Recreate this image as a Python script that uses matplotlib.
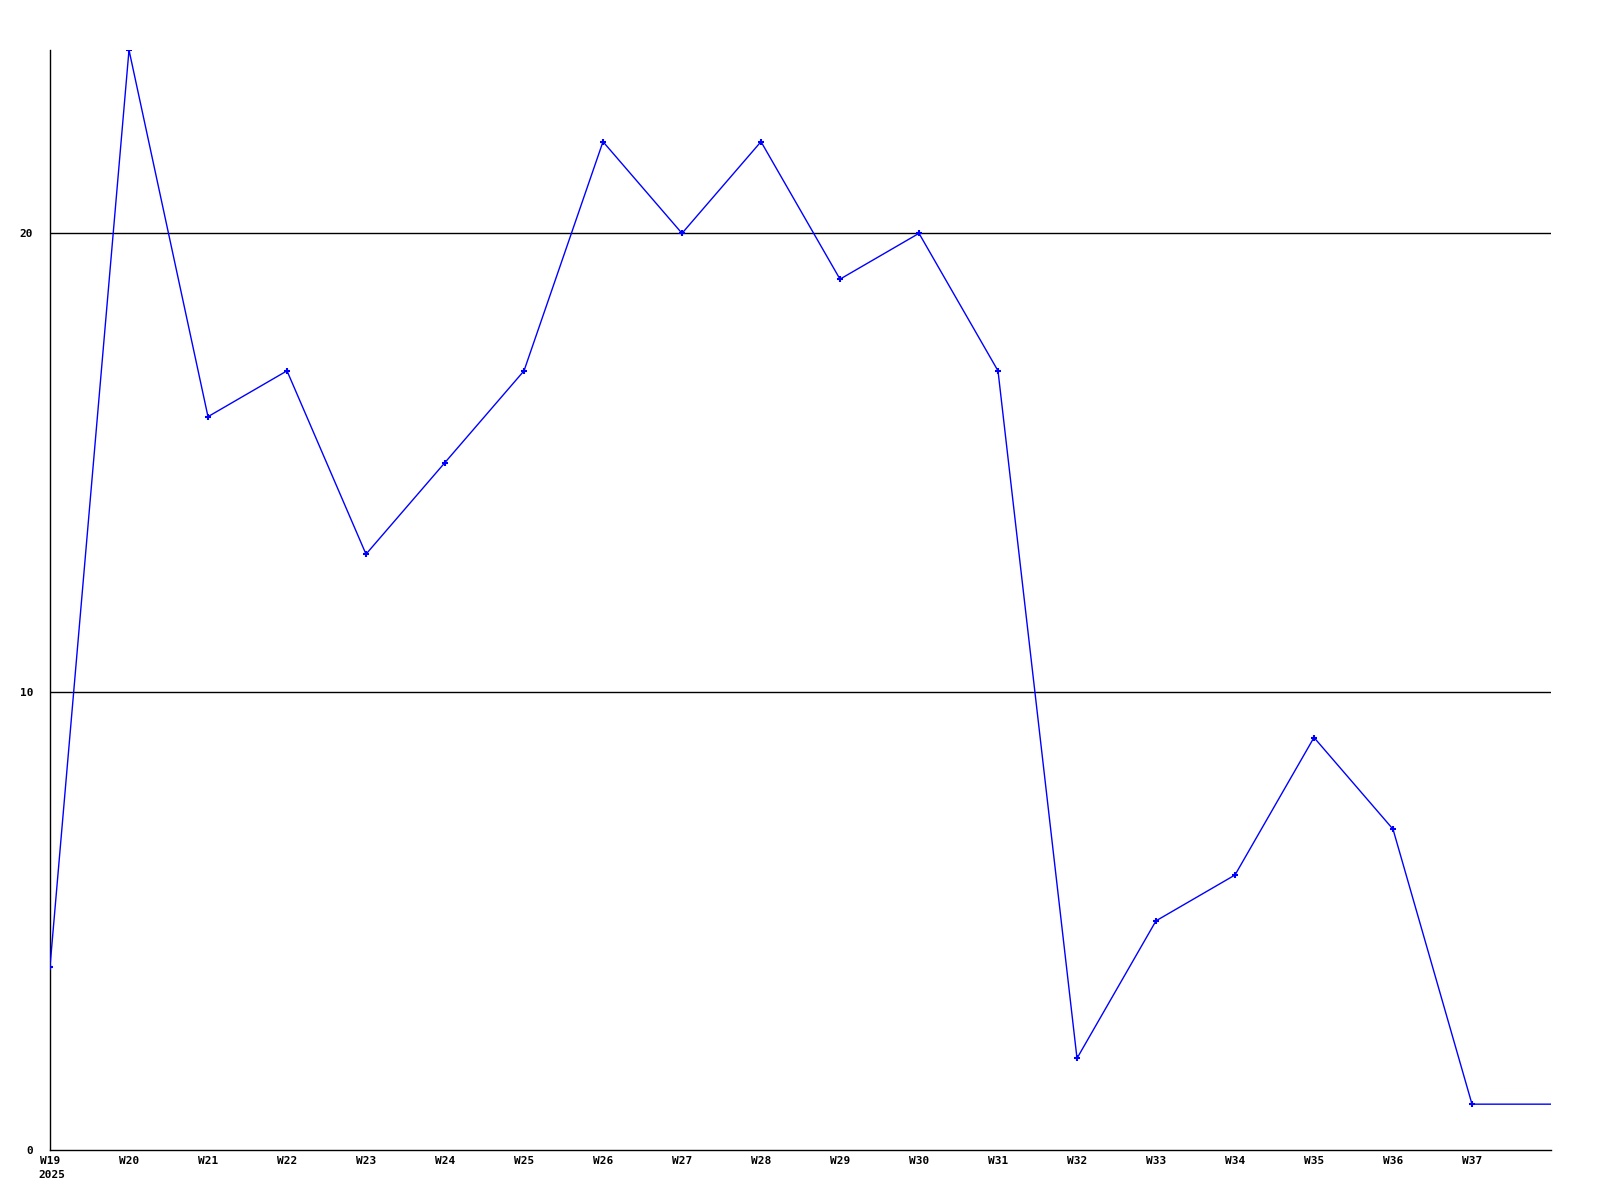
import matplotlib
matplotlib.use("Agg")
import matplotlib.pyplot as plt

weeks = [19, 20, 21, 22, 23, 24, 25, 26, 27, 28, 29, 30, 31, 32, 33, 34, 35, 36, 37, 38]
values = [4, 24, 16, 17, 13, 15, 17, 22, 20, 22, 19, 20, 17, 2, 5, 6, 9, 7, 1, 1]
tick_weeks = weeks[:-1]
tick_labels = ["W%d" % w for w in tick_weeks]
year_label = "2025"
y_ticks = [0, 10, 20]

fig = plt.figure(figsize=(16, 12), dpi=100)
ax = fig.add_axes([50 / 1600, 50 / 1200, 1501 / 1600, 1100 / 1200])

for y in y_ticks[1:]:
    ax.axhline(y, color="black", linewidth=1, zorder=1)

# last point sits on the right edge, no marker drawn there
ax.plot(weeks, values, color="#0000ff", linewidth=1, zorder=3)
ax.plot(weeks[:-1], values[:-1], linestyle="none", marker="+", markersize=4,
        markeredgewidth=1.5, color="#0000ff", zorder=4)

ax.set_xlim(weeks[0], weeks[-1])
ax.set_ylim(0, 24)
ax.set_xticks(tick_weeks)
ax.set_xticklabels(tick_labels)
ax.set_yticks(y_ticks)
ax.set_yticklabels([str(v) for v in y_ticks])

font = dict(family="DejaVu Sans Mono", fontweight="bold", fontsize=8)
for lbl in ax.get_xticklabels() + ax.get_yticklabels():
    lbl.set_family(font["family"])
    lbl.set_fontweight(font["fontweight"])
    lbl.set_fontsize(font["fontsize"])

# year under the first week label
ax.annotate(year_label, xy=(weeks[0], 0), xycoords=("data", "axes fraction"),
            xytext=(-12, -20), textcoords="offset pixels",
            ha="left", va="top", **font)

ax.tick_params(axis="both", length=0)
ax.tick_params(axis="x", pad=4)
ax.tick_params(axis="y", pad=12)
ax.spines["top"].set_visible(False)
ax.spines["right"].set_visible(False)
ax.spines["left"].set_linewidth(1)
ax.spines["bottom"].set_linewidth(1)

fig.savefig("out.png", dpi=100)
